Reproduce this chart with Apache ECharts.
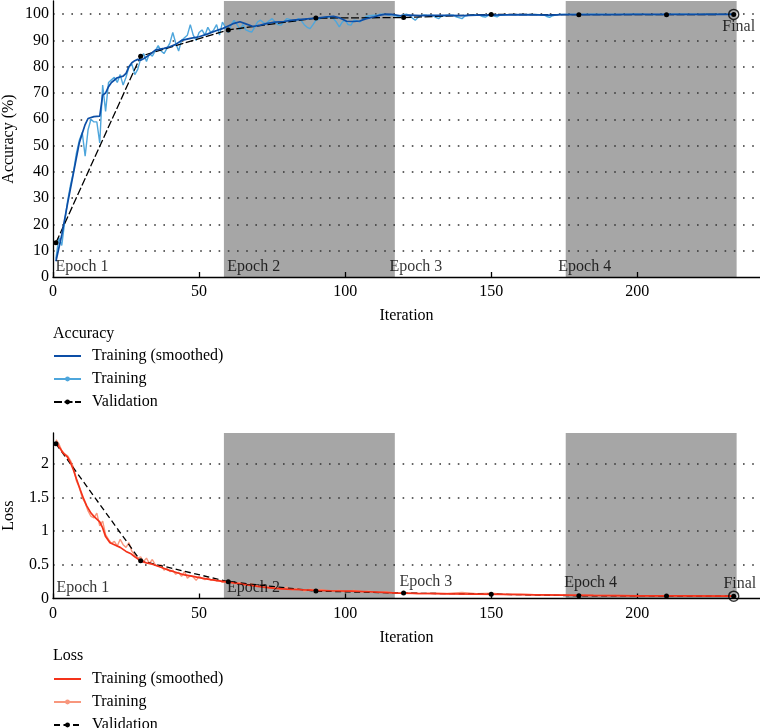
<!DOCTYPE html>
<html><head><meta charset="utf-8">
<script src="https://cdn.jsdelivr.net/npm/echarts@6/dist/echarts.min.js"></script>
<style>html,body{margin:0;padding:0;background:#fff}#c{width:760px;height:728px}</style>
</head><body><div id="c"></div>
<script>
// ---------- data ----------
const epochShade = [[58.5, 117], [175.5, 234]];
const valIter = [1, 30, 60, 90, 120, 150, 180, 210, 233];
const accVal = [13, 84, 94, 98.5, 98.7, 99.9, 99.8, 99.8, 99.9];
const lossVal = [2.3, 0.56, 0.25, 0.11, 0.08, 0.065, 0.04, 0.037, 0.035];

const accTrain = [[1,7],[2,15],[3,12],[4,21],[5,29],[6,35],[7,40],[8,47],[9,52],[10,55],[11,46],[12,56],[13,60],[14,59],[15,59],[16,51],[17,73],[18,63],[19,74],[20,75],[21,76],[22,74],[23,77],[24,73],[25,76],[26,80],[27,81],[28,77],[29,79],[30,83],[31,85],[32,82],[33,85],[34,84],[35,86],[36,88],[37,86],[38,85],[39,87],[40,89],[41,93],[42,89],[43,86],[44,90],[45,91],[46,92],[47,96],[48,92],[49,90],[50,93],[51,94],[52,92],[53,95],[54,93],[55,94],[56,96],[57,92],[58,97],[59,95],[60,93],[61,96],[62,97.6],[63,96],[64,94],[65,96],[66,94],[67,93.5],[68,93.2],[69,95],[70,97],[71,97.7],[72,96.8],[73,96.4],[74,97.5],[75,98.3],[76,97],[77,96],[78,95.8],[79,97],[80,98.3],[81,98],[82,97.2],[83,97.4],[84,98.3],[85,97.5],[86,96],[87,95],[88,94.5],[89,96],[90,97.7],[91,98],[92,98.6],[93,98.8],[94,99],[95,98.8],[96,98.3],[97,97],[98,95.2],[99,97],[100,97.7],[101,96],[102,95.8],[103,97.7],[104,97.5],[105,97],[106,98],[107,99],[108,99.3],[109,99.5],[110,99.6],[111,99.6],[112,100],[113,100],[114,99.8],[115,99.6],[116,99.8],[117,99.4],[118,99.2],[119,99.3],[120,99.8],[121,100],[122,99.5],[123,98.5],[124,97.7],[125,98.8],[126,99.5],[127,99.7],[128,99.6],[130,99.5],[131,98.8],[132,98.3],[133,99.2],[135,99.6],[137,99.6],[138,99],[140,98.3],[141,99.3],[143,99.7],[146,99.6],[147,99.1],[148,98.9],[149,99.5],[150,99.7],[151,99.3],[152,99],[153,99.6],[156,99.8],[160,99.8],[165,99.9],[168,99.7],[169,99.1],[170,98.8],[171,99.4],[173,99.9],[178,99.9],[185,100],[190,99.9],[195,99.9],[200,100],[205,99.8],[210,99.9],[215,100],[220,99.9],[225,100],[230,99.9],[233,100]];

const accSmooth = [[1,6],[3,16],[5,28],[7,39.5],[9,51],[10,54.6],[11,58],[12,60.3],[14,61],[16,61.2],[17,69.2],[18,70],[19,72.4],[20,74],[22,75.8],[24,76.4],[25,77.5],[26,80],[27,81.5],[28,82.3],[29,82.8],[30,82.5],[31,83],[33,84.5],[35,86.3],[38,87],[40,87.6],[42,88.5],[44,90],[47,90.8],[50,91.4],[53,92.5],[56,93.8],[58,94.5],[60,95.5],[62,96.5],[64,97.1],[66,96.3],[68.5,95.3],[71,95.8],[73,96.4],[76,97],[79,97.2],[82,97.7],[85,98],[88,98.3],[91,98.6],[94,99],[96,99.2],[98,98.6],[100.5,97.3],[103,97.2],[105,97.4],[107,98.2],[110,99],[112,99.6],[114,100],[116,99.9],[119,99.4],[122,99.6],[126,99.4],[130,99.5],[135,99.5],[140,99.4],[145,99.6],[150,99.6],[160,99.8],[170,99.6],[175,99.8],[180,99.8],[190,99.8],[200,99.9],[215,99.9],[233,99.9]];

const lossTrain = [[1,2.36],[2,2.3],[3,2.2],[4,2.15],[5,2.12],[6,2.05],[7,1.95],[8,1.75],[9,1.65],[10,1.5],[11,1.42],[12,1.3],[13,1.22],[14,1.2],[15,1.27],[16,1.08],[17,1.15],[18,0.95],[19,0.88],[20,0.82],[21,0.85],[22,0.78],[23,0.88],[24,0.8],[25,0.76],[26,0.83],[27,0.7],[28,0.65],[29,0.6],[30,0.62],[31,0.55],[32,0.6],[33,0.52],[34,0.58],[35,0.5],[36,0.48],[37,0.5],[38,0.42],[39,0.45],[40,0.4],[41,0.42],[42,0.36],[43,0.39],[44,0.33],[45,0.4],[46,0.3],[47,0.34],[48,0.32],[49,0.27],[50,0.33],[51,0.3],[52,0.28],[53,0.31],[54,0.27],[55,0.29],[56,0.26],[57,0.27],[58,0.24],[60,0.26],[62,0.22],[64,0.24],[66,0.2],[68,0.22],[70,0.18],[72,0.2],[74,0.16],[76,0.17],[78,0.14],[80,0.17],[82,0.13],[84,0.15],[86,0.11],[88,0.14],[90,0.12],[92,0.13],[95,0.11],[98,0.12],[100,0.1],[103,0.12],[106,0.1],[108,0.11],[111,0.09],[114,0.1],[117,0.08],[120,0.09],[125,0.07],[130,0.08],[135,0.075],[140,0.09],[145,0.07],[150,0.08],[155,0.06],[160,0.065],[165,0.055],[170,0.055],[175,0.05],[180,0.045],[190,0.045],[200,0.04],[210,0.04],[220,0.038],[233,0.035]];

const lossSmooth = [[1,2.33],[2,2.26],[3.5,2.16],[5,2.1],[6,2.02],[7,1.91],[8,1.78],[9.3,1.62],[10.5,1.48],[11.5,1.38],[13,1.27],[14,1.22],[15,1.18],[16,1.14],[17,1.05],[18,0.92],[19.5,0.83],[21,0.8],[23,0.76],[25,0.7],[26.5,0.67],[28,0.62],[30,0.56],[32,0.53],[34,0.51],[36,0.48],[39,0.43],[42,0.39],[45,0.35],[48,0.33],[50,0.31],[54,0.28],[58,0.255],[62,0.23],[67,0.2],[72,0.17],[76,0.15],[80,0.14],[85,0.13],[90,0.12],[95,0.115],[102,0.11],[108,0.1],[113,0.09],[118,0.08],[125,0.075],[135,0.07],[145,0.065],[155,0.06],[165,0.055],[175,0.05],[185,0.045],[200,0.04],[215,0.038],[233,0.035]];

// annotation anchors (data coords)
const accEpochLabels = [['Epoch 1',0.7,3.8],['Epoch 2',59.5,3.8],['Epoch 3',115,3.8],['Epoch 4',172.8,3.8]];
const lossEpochLabels = [['Epoch 1',1.0,0.16],['Epoch 2',59.4,0.16],['Epoch 3',118.4,0.25],['Epoch 4',174.8,0.235]];
const accFinalLabel = [234.7, 95.3];
const lossFinalLabel = [235.1, 0.215];
const finalIter = 233;

// ---------- style ----------
const FONT = 'Liberation Serif';
const C = {darkBlue:'#0c4ea6', lightBlue:'#4ea6dc', red:'#f4321a', salmon:'#f8977d', shade:'#a6a6a6'};
const names = {
  as:'Training (smoothed)', at:'Training', av:'Validation',
  ls:'Training (smoothed) ', lt:'Training ', lv:'Validation '
};

function xAxis(grid){
  return {type:'value', gridIndex:grid, min:0, max:242, interval:50,
    name:'Iteration', nameLocation:'middle', nameGap:31, nameMoveOverlap:false,
    nameTextStyle:{fontFamily:FONT,fontSize:16,color:'#000'},
    axisLine:{show:true,onZero:false,lineStyle:{color:'#000',width:1.3}},
    axisTick:{show:true,inside:true,length:5,lineStyle:{color:'#000',width:1.3}},
    axisLabel:{fontFamily:FONT,fontSize:16,color:'#000',margin:7,showMaxLabel:false},
    splitLine:{show:false}, z:1.5};
}
function yAxis(grid,max,interval,name,gap){
  return {type:'value', gridIndex:grid, min:0, max:max, interval:interval,
    name:name, nameLocation:'middle', nameGap:gap, nameMoveOverlap:false,
    nameTextStyle:{fontFamily:FONT,fontSize:16,color:'#000'},
    axisLine:{show:true,onZero:false,lineStyle:{color:'#000',width:1.3}},
    axisTick:{show:false},
    axisLabel:{fontFamily:FONT,fontSize:16,color:'#000',margin:4,showMaxLabel:false},
    splitLine:{show:true,showMinLine:false,showMaxLine:false,lineStyle:{color:'#333',width:1.6,type:[1.6,7.6]}},
    z:1.5};
}
function shadeSeries(idx){
  return {type:'line', xAxisIndex:idx, yAxisIndex:idx, data:[], z:1, silent:true,
    markArea:{silent:true, itemStyle:{color:C.shade,opacity:1},
      data: epochShade.map(s=>[{xAxis:s[0]},{xAxis:s[1]}])}};
}
function labelSeries(idx, list, final){
  const d = list.map(l=>({name:l[0], value:[l[1],l[2]], label:{position:'right'}}));
  d.push({name:'Final', value:final, label:{position:'inside'}});
  return {type:'scatter', xAxisIndex:idx, yAxisIndex:idx, symbolSize:1, z:4, silent:true,
    itemStyle:{color:'rgba(0,0,0,0)'}, data:d,
    label:{show:true, formatter:'{b}', distance:0, fontFamily:FONT, fontSize:16, color:'#000'}};
}
function finalRing(idx, y){
  return {type:'scatter', xAxisIndex:idx, yAxisIndex:idx, symbol:'circle', symbolSize:10, z:5, silent:true,
    itemStyle:{color:'rgba(0,0,0,0)', borderColor:'#000', borderWidth:1.5}, data:[[finalIter,y]]};
}
const valPairs = arr => valIter.map((x,i)=>[x,arr[i]]);

const legendBase = {orient:'vertical', left:53, itemWidth:27, itemHeight:6, itemGap:7, padding:0, height:90,
  textStyle:{fontFamily:FONT,fontSize:16,color:'#000',lineHeight:16,padding:[0,0,0,6]}};
const noDot = {opacity:0};

const option = {
  animation:false,
  backgroundColor:'#fff',
  title:[
    {text:'Accuracy', left:53, top:326, padding:0, textStyle:{fontFamily:FONT,fontSize:16,fontWeight:'normal',color:'#000'}},
    {text:'Loss', left:53, top:648, padding:0, textStyle:{fontFamily:FONT,fontSize:16,fontWeight:'normal',color:'#000'}}
  ],
  legend:[
    Object.assign({}, legendBase, {top:348, data:[{name:names.as,itemStyle:noDot},names.at,names.av]}),
    Object.assign({}, legendBase, {top:671, data:[{name:names.ls,itemStyle:noDot},names.lt,names.lv]})
  ],
  grid:[
    {left:53, right:0, top:1, height:276, outerBoundsMode:'none', containLabel:false},
    {left:53, right:0, top:433, height:165.5, outerBoundsMode:'none', containLabel:false}
  ],
  xAxis:[xAxis(0), xAxis(1)],
  yAxis:[yAxis(0,105,10,'Accuracy (%)',36), yAxis(1,2.46,0.5,'Loss',36)],
  series:[
    shadeSeries(0),
    {name:names.at, type:'line', xAxisIndex:0, yAxisIndex:0, data:accTrain, symbol:'circle', symbolSize:5, showSymbol:false,
      color:C.lightBlue, lineStyle:{width:1.4,color:C.lightBlue}, z:2},
    {name:names.av, type:'line', xAxisIndex:0, yAxisIndex:0, data:valPairs(accVal), symbol:'circle', symbolSize:5,
      color:'#000', itemStyle:{color:'#000'}, lineStyle:{width:1.3,color:'#000',type:[8,2.5]}, z:3},
    {name:names.as, type:'line', xAxisIndex:0, yAxisIndex:0, data:accSmooth, symbol:'none',
      color:C.darkBlue, lineStyle:{width:1.7,color:C.darkBlue}, z:3},
    finalRing(0, accVal[accVal.length-1]),
    labelSeries(0, accEpochLabels, accFinalLabel),

    shadeSeries(1),
    {name:names.lt, type:'line', xAxisIndex:1, yAxisIndex:1, data:lossTrain, symbol:'circle', symbolSize:5, showSymbol:false,
      color:C.salmon, lineStyle:{width:1.4,color:C.salmon}, z:2},
    {name:names.lv, type:'line', xAxisIndex:1, yAxisIndex:1, data:valPairs(lossVal), symbol:'circle', symbolSize:5,
      color:'#000', itemStyle:{color:'#000'}, lineStyle:{width:1.3,color:'#000',type:[6,3.5]}, z:3},
    {name:names.ls, type:'line', xAxisIndex:1, yAxisIndex:1, data:lossSmooth, symbol:'none',
      color:C.red, lineStyle:{width:1.7,color:C.red}, z:3},
    finalRing(1, lossVal[lossVal.length-1]),
    labelSeries(1, lossEpochLabels, lossFinalLabel)
  ]
};
const chart = echarts.init(document.getElementById('c'), null, {renderer:'canvas'});
chart.setOption(option);
</script></body></html>
